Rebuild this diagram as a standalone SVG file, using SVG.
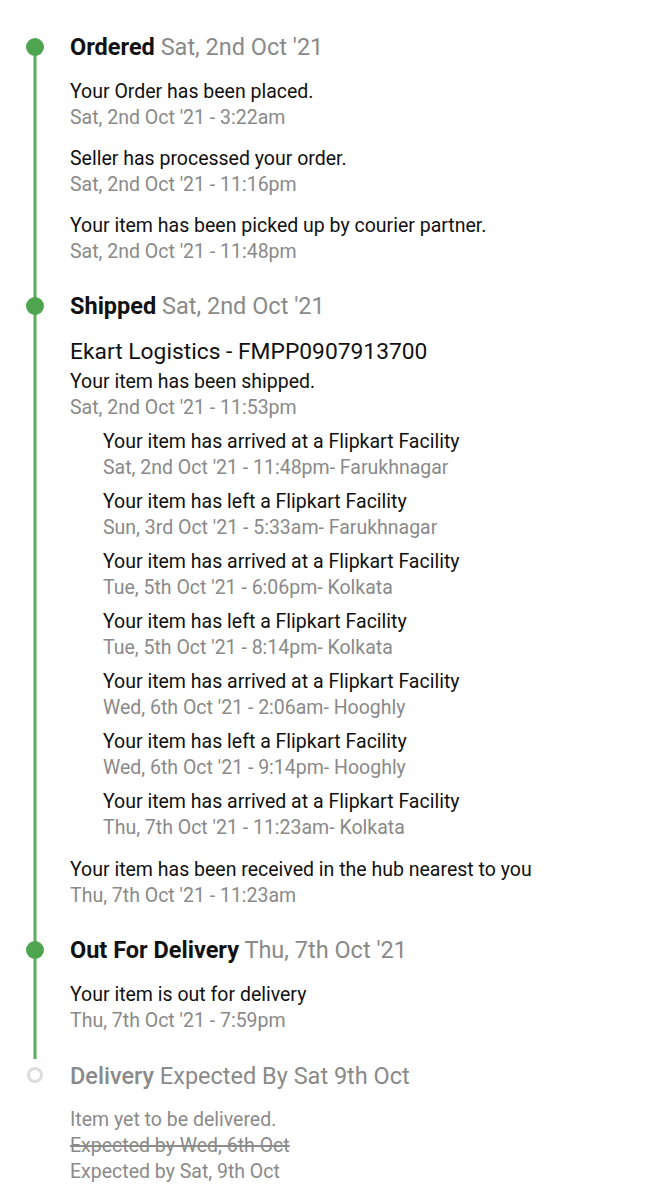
<svg xmlns="http://www.w3.org/2000/svg" width="650" height="1200" viewBox="0 0 650 1200">
<style>
text{font-family:Roboto,"Liberation Sans",sans-serif}
.h{font-size:23.5px;font-weight:700;fill:#111}
.hd{font-size:23.5px;fill:#8a8a8a}
.t{font-size:19.5px;fill:#111}
.d{font-size:19.5px;fill:#8a8a8a}
.e{font-size:22.8px;fill:#111}
.dot{fill:#4fa54f}
</style>
<rect width="650" height="1200" fill="#fff"/>
<g id="connectors">
<line x1="35" y1="47" x2="35" y2="1059" stroke="#5bad5b" stroke-width="3"/>
</g>
<g id="ordered">
<circle class="dot" cx="35" cy="47" r="9"/>
<text x="70" y="55"><tspan class="h">Ordered</tspan><tspan class="hd"> Sat, 2nd Oct '21</tspan></text>
<text class="t" x="70" y="98">Your Order has been placed.</text>
<text class="d" x="70" y="124">Sat, 2nd Oct '21 - 3:22am</text>
<text class="t" x="70" y="165">Seller has processed your order.</text>
<text class="d" x="70" y="191">Sat, 2nd Oct '21 - 11:16pm</text>
<text class="t" x="70" y="232">Your item has been picked up by courier partner.</text>
<text class="d" x="70" y="258">Sat, 2nd Oct '21 - 11:48pm</text>
</g>
<g id="shipped">
<circle class="dot" cx="35" cy="306" r="9"/>
<text x="70" y="314"><tspan class="h">Shipped</tspan><tspan class="hd"> Sat, 2nd Oct '21</tspan></text>
<text class="e" x="70" y="359">Ekart Logistics - FMPP0907913700</text>
<text class="t" x="70" y="388">Your item has been shipped.</text>
<text class="d" x="70" y="414">Sat, 2nd Oct '21 - 11:53pm</text>
<text class="t" x="103" y="448">Your item has arrived at a Flipkart Facility</text>
<text class="d" x="103" y="474">Sat, 2nd Oct '21 - 11:48pm- Farukhnagar</text>
<text class="t" x="103" y="508">Your item has left a Flipkart Facility</text>
<text class="d" x="103" y="534">Sun, 3rd Oct '21 - 5:33am- Farukhnagar</text>
<text class="t" x="103" y="568">Your item has arrived at a Flipkart Facility</text>
<text class="d" x="103" y="594">Tue, 5th Oct '21 - 6:06pm- Kolkata</text>
<text class="t" x="103" y="628">Your item has left a Flipkart Facility</text>
<text class="d" x="103" y="654">Tue, 5th Oct '21 - 8:14pm- Kolkata</text>
<text class="t" x="103" y="688">Your item has arrived at a Flipkart Facility</text>
<text class="d" x="103" y="714">Wed, 6th Oct '21 - 2:06am- Hooghly</text>
<text class="t" x="103" y="748">Your item has left a Flipkart Facility</text>
<text class="d" x="103" y="774">Wed, 6th Oct '21 - 9:14pm- Hooghly</text>
<text class="t" x="103" y="808">Your item has arrived at a Flipkart Facility</text>
<text class="d" x="103" y="834">Thu, 7th Oct '21 - 11:23am- Kolkata</text>
<text class="t" x="70" y="876">Your item has been received in the hub nearest to you</text>
<text class="d" x="70" y="902">Thu, 7th Oct '21 - 11:23am</text>
</g>
<g id="out-for-delivery">
<circle class="dot" cx="35" cy="950" r="9"/>
<text x="70" y="958"><tspan class="h">Out For Delivery</tspan><tspan class="hd"> Thu, 7th Oct '21</tspan></text>
<text class="t" x="70" y="1001">Your item is out for delivery</text>
<text class="d" x="70" y="1027">Thu, 7th Oct '21 - 7:59pm</text>
</g>
<g id="delivery">
<circle cx="35" cy="1075" r="6.5" fill="#fff" stroke="#dcdcdc" stroke-width="3"/>
<text x="70" y="1084"><tspan class="hd" font-weight="500">Delivery</tspan><tspan class="hd"> Expected By Sat 9th Oct</tspan></text>
<text class="d" x="70" y="1126">Item yet to be delivered.</text>
<text class="d" x="70" y="1152" text-decoration="line-through">Expected by Wed, 6th Oct</text>
<text class="d" x="70" y="1178">Expected by Sat, 9th Oct</text>
</g>
</svg>
